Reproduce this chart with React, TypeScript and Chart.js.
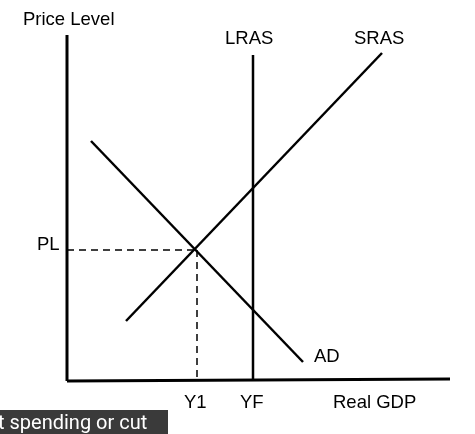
import { useEffect, useRef } from 'react'
import { Chart, registerables } from 'chart.js'

Chart.register(...registerables)

// curve endpoints in diagram units (x right, y down)
const yAxis = [{ x: 67, y: 35 }, { x: 67, y: 381 }]
const xAxis = [{ x: 67, y: 381 }, { x: 450, y: 379 }]
const lras = [{ x: 253, y: 55 }, { x: 253, y: 381 }]
const sras = [{ x: 126, y: 321 }, { x: 382, y: 53 }]
const ad = [{ x: 91, y: 141 }, { x: 303, y: 362 }]
const plGuide = [{ x: 67, y: 250 }, { x: 197, y: 250 }]
const y1Guide = [{ x: 197, y: 250 }, { x: 197, y: 381 }]

const labels = [
  { text: 'Price Level', x: 23, y: 20 },
  { text: 'LRAS', x: 225, y: 39 },
  { text: 'SRAS', x: 354, y: 39 },
  { text: 'PL', x: 37, y: 245 },
  { text: 'AD', x: 314, y: 357 },
  { text: 'Y1', x: 184, y: 403 },
  { text: 'YF', x: 240, y: 403 },
  { text: 'Real GDP', x: 333, y: 403 },
]

const textPlugin = {
  id: 'texts',
  afterDraw(chart: Chart) {
    const { ctx, scales } = chart
    ctx.save()
    ctx.font = '18.5px "Liberation Sans", Arial, sans-serif'
    ctx.fillStyle = '#000'
    ctx.textBaseline = 'middle'
    labels.forEach(l => ctx.fillText(l.text, scales.x.getPixelForValue(l.x), scales.y.getPixelForValue(l.y)))
    ctx.fillStyle = '#3a3a3a'
    ctx.fillRect(0, scales.y.getPixelForValue(410), scales.x.getPixelForValue(168), 30)
    ctx.fillStyle = '#fff'
    ctx.font = '20px Roboto, sans-serif'
    ctx.fillText('t spending or cut', -2, scales.y.getPixelForValue(424))
    ctx.restore()
  },
}

const line = (data: any[], width: number, dash: number[] = []) => ({
  data, showLine: true, borderColor: '#000', borderWidth: width, borderDash: dash, pointRadius: 0,
})

export default function App() {
  const canvasRef = useRef<HTMLCanvasElement>(null)

  useEffect(() => {
    if (!canvasRef.current) return
    const chart = new Chart(canvasRef.current, {
      type: 'scatter',
      data: {
        datasets: [
          line(yAxis, 3),
          line(xAxis, 3),
          line(lras, 2.5),
          line(sras, 2.5),
          line(ad, 2.5),
          line(plGuide, 1.5, [7, 5]),
          line(y1Guide, 1.5, [7, 5]),
        ],
      },
      options: {
        responsive: false,
        animation: false,
        layout: { padding: 0 },
        plugins: { legend: { display: false }, tooltip: { enabled: false } },
        scales: {
          x: { type: 'linear', min: 0, max: 475, display: false },
          y: { type: 'linear', min: 0, max: 434, reverse: true, display: false },
        },
      },
      plugins: [textPlugin],
    })
    return () => chart.destroy()
  }, [])

  return (
    <div style={{ position: 'fixed', left: 0, top: 0, background: '#fff' }}>
      <canvas ref={canvasRef} width={475} height={434} />
    </div>
  )
}
